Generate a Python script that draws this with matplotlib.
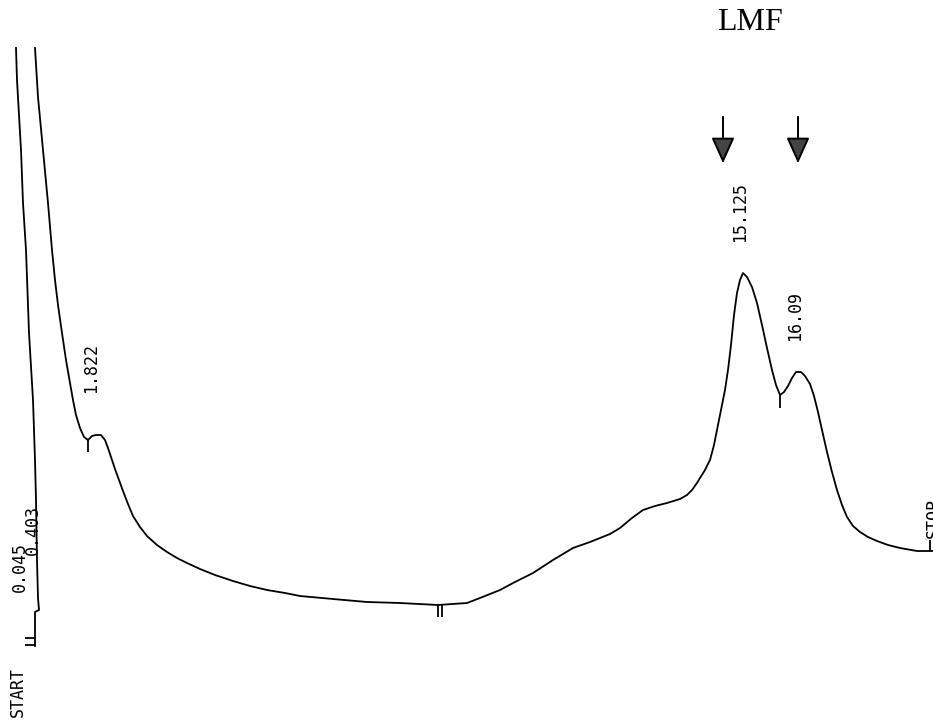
import numpy as np
import matplotlib.pyplot as plt

# chart position (x) and pen deflection measured from top of paper (y)
rise_x = [35, 35, 39, 38, 37, 36, 35, 33, 29, 26, 23, 21, 17, 16]
rise_y = [646, 612, 610, 598, 560, 500, 460, 400, 333, 250, 203, 150, 80, 48]

trace_x = [35, 38, 43, 48, 52, 55, 58, 62, 66, 70, 73, 76, 80, 84, 88, 92, 96, 101,
           105, 108, 111, 115, 119, 123, 128, 133, 140, 147, 157, 167, 177, 187,
           200, 215, 233, 250, 267, 285, 300, 333, 367, 400, 438, 467, 480, 500,
           515, 533, 553, 573, 590, 600, 610, 620, 632, 643, 655, 667, 680, 687,
           692, 697, 700, 705, 710, 714, 718, 722, 725, 728, 731, 734, 737, 740,
           743, 747, 752, 757, 762, 767, 772, 776, 780, 784, 788, 792, 796, 801,
           805, 810, 814, 818, 822, 827, 832, 837, 842, 847, 853, 860, 868, 877,
           888, 900, 917, 933]
trace_y = [48, 97, 150, 203, 250, 280, 305, 333, 360, 383, 400, 415, 428, 437, 440, 436, 435, 435,
           440, 448, 457, 469, 480, 491, 504, 516, 527, 536, 545, 552, 558, 563,
           569, 575, 581, 586, 590, 593, 596, 599, 602, 603, 605, 603, 598, 590,
           582, 573, 560, 548, 542, 538, 534, 528, 518, 510, 506, 503, 499, 495,
           490, 483, 478, 470, 460, 445, 425, 405, 390, 370, 345, 315, 293, 280,
           273, 277, 287, 303, 325, 348, 370, 385, 395, 392, 386, 378, 372, 372,
           376, 384, 396, 412, 430, 452, 472, 490, 505, 517, 526, 532, 537, 541,
           545, 548, 551, 551]

# integrator ticks
tick_x = [88, 438, 442, 780, 930]
tick_top = [440, 605, 605, 395, 540]
tick_bot = [452, 617, 617, 408, 551]

# retention time labels
rt_labels = ["1.822", "15.125", "16.09"]
rt_x = [91, 740, 795]
rt_y = [368, 212, 316]

arrow_x = [723, 798]

fig = plt.figure(figsize=(9.33, 7.28), dpi=100)
ax = fig.add_axes([0, 0, 1, 1])
ax.set_xlim(0, 933)
ax.set_ylim(728, 0)
ax.axis('off')

ax.plot(rise_x, rise_y, color='black', lw=1.3)
ax.plot(trace_x, trace_y, color='black', lw=1.3)
ax.vlines(tick_x, tick_top, tick_bot, color='black', lw=1.3)
# start marker
ax.hlines([638, 645], 25, 35, color='black', lw=1.3)

mono = 'DejaVu Sans Mono'
for lab, x, y in zip(rt_labels, rt_x, rt_y):
    ax.text(x, y, lab, rotation=90, ha='center', va='center', family=mono, fontsize=12)
ax.text(20, 567, "0.045", rotation=90, ha='center', va='center', family=mono, fontsize=12)
ax.text(33, 530, "0.403", rotation=90, ha='center', va='center', family=mono, fontsize=12)
ax.text(18, 667, "START", rotation=90, ha='center', va='top', family=mono, fontsize=12)
ax.text(925, 538, "STOP", rotation=90, ha='left', va='bottom', family=mono, fontsize=12)

ax.text(750, 22, "LMF", ha='center', va='center', family='Liberation Serif', fontsize=23)

for x in arrow_x:
    ax.annotate("", xy=(x, 166), xytext=(x, 114),
                arrowprops=dict(arrowstyle='-|>,head_length=0.8,head_width=0.36',
                                mutation_scale=20, fc='#444444', ec='black', lw=1.4))

fig.savefig('out.png', dpi=100)
